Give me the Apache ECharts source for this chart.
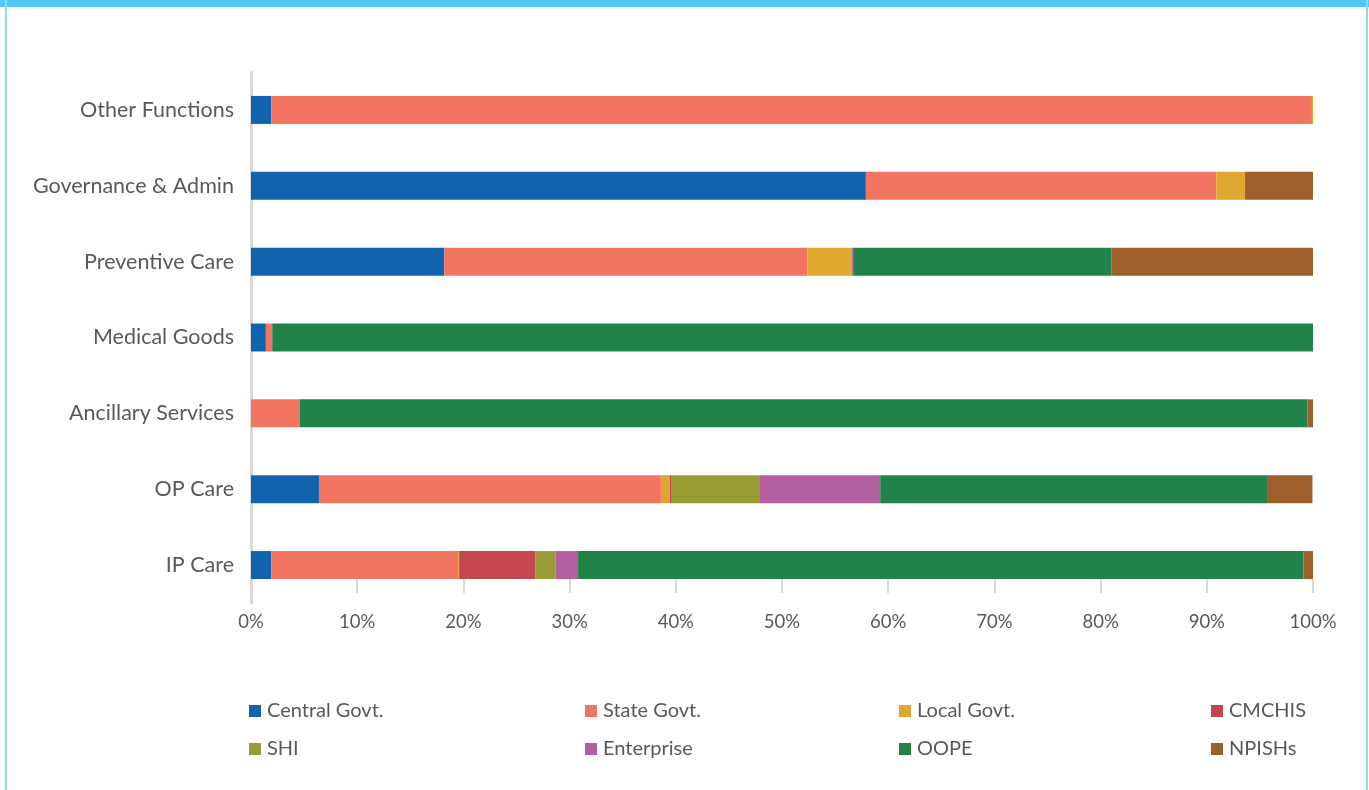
<!DOCTYPE html>
<html>
<head>
<meta charset="utf-8">
<title>Health expenditure by function and financing source</title>
<script src="https://cdn.jsdelivr.net/npm/echarts@6/dist/echarts.min.js"></script>
<style>
    html, body { margin: 0; padding: 0; background: #ffffff; }
    #chart { position: absolute; left: 0; top: 0; width: 1369px; height: 790px; }
    .frame-top { position: absolute; left: 0; top: 0; width: 1369px; height: 7px; background: #52c8f5; }
    .frame-left { position: absolute; left: 5px; top: 0; width: 2px; height: 790px; background: #8ad9f8; }
    .frame-right { position: absolute; left: 1366px; top: 0; width: 2px; height: 790px; background: #8ad9f8; }
</style>
</head>
<body>
<div id="chart"></div>
<div class="frame-top"></div>
<div class="frame-left"></div>
<div class="frame-right"></div>
<script>
    // bottom to top, as drawn
    const categories = ["IP Care", "OP Care", "Ancillary Services", "Medical Goods", "Preventive Care", "Governance & Admin", "Other Functions"];

    // share of each function's spend (%), same order as categories
    const centralGovt = [1.9, 6.4, 0, 1.4, 18.2, 57.9, 1.9];
    const stateGovt = [17.6, 32.2, 4.6, 0.6, 34.2, 33.0, 98.0];
    const localGovt = [0.1, 0.85, 0, 0, 4.2, 2.7, 0.1];
    const cmchis = [7.2, 0.1, 0, 0, 0, 0, 0];
    const shi = [1.9, 8.3, 0, 0, 0, 0, 0];
    const enterprise = [2.1, 11.4, 0, 0, 0.1, 0, 0];
    const oope = [68.3, 36.5, 94.9, 98.0, 24.3, 0, 0];
    const npish = [0.9, 4.2, 0.5, 0, 19.0, 6.4, 0];

    const xTicks = [0, 10, 20, 30, 40, 50, 60, 70, 80, 90, 100];

    const seriesDefs = [
        { name: "Central Govt.", data: centralGovt, color: "#1064ae" },
        { name: "State Govt.", data: stateGovt, color: "#f27561" },
        { name: "Local Govt.", data: localGovt, color: "#e0a830" },
        { name: "CMCHIS", data: cmchis, color: "#c44650" },
        { name: "SHI", data: shi, color: "#979c35" },
        { name: "Enterprise", data: enterprise, color: "#b45fa2" },
        { name: "OOPE", data: oope, color: "#218349" },
        { name: "NPISHs", data: npish, color: "#9d602d" }
    ];

    const textColor = "#595959";
    const fontFamily = "Lato, 'Open Sans', sans-serif";

    // legend laid out as 4 columns x 2 rows
    const legendColumns = [
        { left: 249, items: ["Central Govt.", "SHI"] },
        { left: 585, items: ["State Govt.", "Enterprise"] },
        { left: 899, items: ["Local Govt.", "OOPE"] },
        { left: 1211, items: ["CMCHIS", "NPISHs"] }
    ];

    const chart = echarts.init(document.getElementById("chart"), null, { renderer: "canvas" });

    chart.setOption({
        backgroundColor: "#ffffff",
        animation: false,
        textStyle: { fontFamily },
        grid: { left: 251, right: 56, top: 72, bottom: 187, containLabel: false },
        xAxis: {
            type: "value",
            min: xTicks[0],
            max: xTicks[xTicks.length - 1],
            interval: 10,
            offset: -10,
            axisLine: { show: false },
            axisTick: { show: true, inside: true, length: 14, lineStyle: { color: "#d9d9d9", width: 2 } },
            splitLine: { show: false },
            axisLabel: {
                color: textColor,
                fontSize: 18.5,
                fontFamily,
                margin: 20,
                formatter: value => `${value}%`
            }
        },
        yAxis: {
            type: "category",
            data: categories,
            axisTick: { show: false },
            axisLine: { show: true, lineStyle: { color: "#d9d9d9", width: 3 } },
            axisLabel: { color: textColor, fontSize: 21.5, fontFamily, margin: 17 }
        },
        legend: legendColumns.map(col => ({
            orient: "vertical",
            left: col.left,
            top: 701,
            padding: 0,
            data: col.items,
            icon: "rect",
            itemWidth: 12,
            itemHeight: 12,
            itemGap: 18,
            textStyle: { color: textColor, fontSize: 20, fontFamily, padding: [0, 0, 0, 1] },
            selectedMode: false
        })),
        series: seriesDefs.map(def => ({
            name: def.name,
            type: "bar",
            stack: "total",
            barWidth: 28,
            data: def.data,
            itemStyle: { color: def.color },
            emphasis: { disabled: true }
        }))
    });
</script>
</body>
</html>
